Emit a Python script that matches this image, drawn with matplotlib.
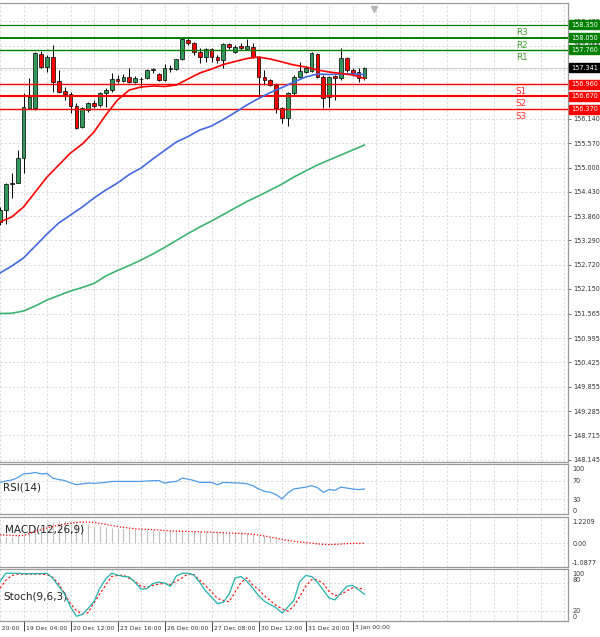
import matplotlib
matplotlib.use('Agg')
import matplotlib.pyplot as plt
from matplotlib.patches import Rectangle
from matplotlib.transforms import blended_transform_factory

# ---------------- data (H4 bars, bar 0 = 19 Dec 04:00) ----------------
bars = list(range(-4, 59))
opens = [153.729, 154.004, 154.614, 154.631,
         155.217, 156.391, 156.391, 157.666, 157.368, 157.602, 157.032, 156.804, 156.734, 156.445,
         155.959, 156.351, 156.509, 156.469, 156.743, 156.821, 157.079, 157.039, 157.133, 157.016,
         157.070, 157.095, 157.290, 157.196, 157.055, 157.314, 157.314, 157.541, 157.994, 157.917,
         157.720, 157.602, 157.776, 157.588, 157.525, 157.894, 157.720, 157.861, 157.776, 157.837,
         157.602, 157.133, 157.055, 156.938, 156.391, 156.156, 156.743, 157.133, 157.250, 157.267,
         157.659, 157.119, 156.649, 157.149, 157.095, 157.565, 157.290, 157.250, 157.095]
highs = [154.074, 154.645, 154.872, 155.412,
         156.743, 157.095, 157.720, 157.743, 157.642, 157.877, 157.290, 156.898, 156.781, 156.516,
         156.429, 156.546, 156.586, 156.781, 156.861, 157.213, 157.173, 157.196, 157.330, 157.149,
         157.133, 157.325, 157.330, 157.227, 157.431, 157.408, 157.560, 158.034, 158.034, 157.955,
         157.800, 157.800, 157.800, 157.642, 157.917, 157.931, 157.877, 157.917, 158.011, 157.931,
         157.610, 157.290, 157.072, 156.978, 156.429, 156.781, 157.173, 157.485, 157.384, 157.720,
         157.696, 157.173, 157.149, 157.173, 157.814, 157.588, 157.330, 157.330, 157.368]
lows = [153.652, 153.675, 154.286, 154.630,
        154.872, 156.390, 156.351, 157.330, 157.250, 156.781, 156.743, 156.586, 156.274, 155.898,
        155.922, 156.311, 156.391, 156.429, 156.415, 156.781, 156.978, 157.016, 156.978, 156.985,
        156.861, 157.079, 157.213, 157.039, 157.039, 157.250, 157.290, 157.525, 157.877, 157.642,
        157.462, 157.485, 157.485, 157.462, 157.330, 157.783, 157.696, 157.760, 157.760, 157.565,
        156.663, 156.938, 156.915, 156.288, 156.053, 155.976, 156.703, 157.095, 157.213, 157.250,
        157.095, 156.391, 156.415, 156.586, 157.055, 157.250, 157.149, 157.016, 157.055]
closes = [154.004, 154.614, 154.631, 155.217,
          156.429, 156.663, 157.682, 157.368, 157.602, 157.016, 156.781, 156.727, 156.445, 155.936,
          156.391, 156.509, 156.452, 156.743, 156.821, 157.079, 157.039, 157.133, 157.016, 157.095,
          157.080, 157.290, 157.314, 157.055, 157.330, 157.344, 157.541, 158.011, 157.931, 157.720,
          157.602, 157.776, 157.588, 157.525, 157.894, 157.823, 157.837, 157.800, 157.854, 157.602,
          157.133, 157.055, 156.938, 156.391, 156.156, 156.743, 157.133, 157.267, 157.330, 157.682,
          157.119, 156.626, 157.133, 157.095, 157.565, 157.290, 157.227, 157.095, 157.341]

ma_bars = list(range(-4, 59, 2))
ma_red = [153.722, 153.840, 154.074, 154.426, 154.778, 155.060, 155.342, 155.553, 155.835, 156.234,
          156.586, 156.821, 156.891, 156.915, 156.903, 156.938, 157.079, 157.220, 157.314, 157.419,
          157.490, 157.560, 157.595, 157.548, 157.478, 157.408, 157.361, 157.290, 157.243, 157.208,
          157.173, 157.091]
ma_blue = [152.525, 152.689, 152.877, 153.159, 153.440, 153.699, 153.886, 154.074, 154.286, 154.473,
           154.638, 154.837, 154.990, 155.201, 155.401, 155.600, 155.729, 155.882, 155.976, 156.128,
           156.293, 156.469, 156.621, 156.762, 156.879, 157.009, 157.126, 157.196, 157.185, 157.196,
           157.196, 157.185]
ma_green = [151.574, 151.579, 151.633, 151.750, 151.891, 151.997, 152.102, 152.185, 152.279, 152.455,
            152.584, 152.701, 152.830, 152.971, 153.124, 153.288, 153.452, 153.605, 153.746, 153.898,
            154.051, 154.203, 154.332, 154.473, 154.614, 154.778, 154.919, 155.060, 155.178, 155.295,
            155.412, 155.530]

level_names = ['R3', 'R2', 'R1', 'S1', 'S2', 'S3']
level_values = [158.350, 158.050, 157.760, 156.960, 156.670, 156.370]
last_price = 157.341

price_ticks = [158.435, 157.855, 157.285, 156.710, 156.140, 155.570, 155.000, 154.430, 153.860,
               153.290, 152.720, 152.150, 151.565, 150.995, 150.425, 149.855, 149.285, 148.715, 148.145]
hidden_ticks = [157.285, 156.710]   # fully covered by the price boxes in the original

rsi = [66, 69, 71, 76,
       84, 85, 87, 84, 85, 75, 72, 70, 65, 61,
       63, 64.5, 64, 65, 66, 68, 68, 68, 68, 68,
       68, 69, 69.5, 70, 64.5, 67, 68, 75, 73, 70,
       66, 66, 66, 61, 66, 65.5, 65, 64.5, 63, 59,
       52, 47, 45, 40, 31, 44, 52, 54, 56, 59,
       55, 45, 50.7, 49.3, 56, 54, 52, 50.7, 52]

macd_hist = [0.30, 0.33, 0.38, 0.45,
             0.55, 0.68, 0.85, 1.00, 1.15, 1.22, 1.25, 1.25, 1.23, 1.20,
             1.15, 1.08, 1.00, 0.95, 0.90, 0.88, 0.86, 0.84, 0.82, 0.80,
             0.78, 0.76, 0.74, 0.72, 0.71, 0.70, 0.70, 0.72, 0.72, 0.70,
             0.68, 0.67, 0.65, 0.63, 0.63, 0.62, 0.60, 0.58, 0.56, 0.52,
             0.48, 0.42, 0.35, 0.25, 0.12, 0.06, 0.02, 0.00, -0.02, 0.00,
             -0.02, -0.06, -0.05, -0.05, 0.00, 0.00, -0.01, -0.02, -0.01]
macd_signal = [0.48, 0.46, 0.44, 0.43,
               0.45, 0.55, 0.66, 0.77, 0.87, 0.95, 1.03, 1.09, 1.14, 1.18,
               1.20, 1.20, 1.18, 1.13, 1.07, 1.01, 0.95, 0.90, 0.86, 0.82,
               0.80, 0.79, 0.77, 0.75, 0.72, 0.70, 0.69, 0.68, 0.67, 0.66,
               0.65, 0.64, 0.63, 0.61, 0.60, 0.58, 0.57, 0.56, 0.54, 0.51,
               0.47, 0.41, 0.35, 0.29, 0.22, 0.16, 0.11, 0.07, 0.04, 0.01,
               -0.03, -0.06, -0.07, -0.06, -0.04, -0.02, -0.01, 0.00, 0.00]

stoch_main = [82, 100, 100, 100,
              99, 99, 99, 99, 100, 89, 72, 55, 28, 8,
              12, 25, 40, 68, 88, 100, 96, 93, 92, 80,
              66, 67, 78, 81, 79, 72, 94, 100, 100, 96,
              80, 62, 49, 35, 38, 56, 90, 93, 83, 68,
              52, 40, 33, 26, 15, 28, 42, 82, 95, 93,
              81, 64, 47, 43, 58, 72, 74, 65, 55]
stoch_signal = [68, 85, 95, 98,
                98, 98, 98, 98, 97, 91, 77, 56, 35, 20,
                13, 16, 37, 56, 75, 93, 95, 96, 89, 82,
                72, 70, 74, 77, 78, 76, 83, 90, 99, 97,
                85, 73, 60, 46, 42, 39, 60, 80, 90, 75,
                65, 52, 41, 31, 24, 19, 30, 50, 72, 86,
                86, 78, 61, 52, 55, 62, 69, 69, 64]

xtick_bars = [-8, 0, 8, 16, 24, 32, 40, 48, 56]
xtick_labels = ['18 Dec 20:00', '19 Dec 04:00', '20 Dec 12:00', '23 Dec 16:00', '26 Dec 00:00',
                '27 Dec 08:00', '30 Dec 12:00', '31 Dec 20:00', '3 Jan 00:00']

# ---------------- figure ----------------
W, H = 600, 637
fig = plt.figure(figsize=(6, 6.37), dpi=100)
fig.patch.set_facecolor('white')
plt.rcParams['font.family'] = ['DejaVu Sans']


def add_ax(top, bottom, right=568):
    return fig.add_axes([0, 1 - bottom / H, right / W, (bottom - top) / H])


ax = add_ax(3, 462)
ax_r = add_ax(464, 514)
ax_m = add_ax(517, 567)
ax_s = add_ax(569, 621)
axes = [ax, ax_r, ax_m, ax_s]

XL = (-3.857, 92.64)
grid_kw = dict(color='#d4d4d4', lw=0.6, ls=(0, (2.5, 2.5)))
major_x = [k for k in xtick_bars if k >= 0]
minor_x = [k for k in range(-4, 93, 4) if k not in major_x]
LAB = '#333333'
for a in axes:
    a.set_xlim(*XL)
    a.set_xticks(major_x)
    a.set_xticks(minor_x, minor=True)
    a.grid(True, which='both', axis='x', **grid_kw)
    a.spines['left'].set_visible(False)
    for s in ['top', 'bottom', 'right']:
        a.spines[s].set_color('#9a9a9a')
        a.spines[s].set_linewidth(0.9)
    a.yaxis.tick_right()
    a.tick_params(axis='y', which='both', labelsize=4.7, colors=LAB, length=0, pad=3)
    a.tick_params(axis='x', which='both', length=0, labelbottom=False)
    a.set_axisbelow(True)

# ---------------- main price panel ----------------
ax.set_ylim(148.088, 158.863)
ax.set_yticks(price_ticks)
ax.set_yticklabels(['' if v in hidden_ticks else '%.3f' % v for v in price_ticks])
ax.tick_params(axis='y', length=2.5, width=0.6, color='#555555', pad=1.5)
ax.grid(True, axis='y', **grid_kw)

ax.axhline(last_price, color='#b8b8b8', lw=0.5, zorder=1.5)

ax.vlines(bars, lows, highs, color='black', lw=0.7, zorder=3)
bottoms = [min(o, c) for o, c in zip(opens, closes)]
heights = [abs(c - o) for o, c in zip(opens, closes)]
cols = ['#2f9a5a' if c >= o else '#ff0000' for o, c in zip(opens, closes)]
ax.bar(bars, heights, bottom=bottoms, width=0.64, color=cols, edgecolor='black',
       linewidth=0.5, zorder=4)

level_colors = ['#008000'] * 3 + ['#ff0000'] * 3
level_lw = [0.9, 1.4, 1.0, 1.0, 1.5, 1.0]
label_colors = ['#3f9c2f'] * 3 + ['#ff2a2a'] * 3
for name, v, c, lw, lc in zip(level_names, level_values, level_colors, level_lw, label_colors):
    ax.axhline(v, color=c, lw=lw, zorder=4.5)
    ax.annotate(name, xy=(0.908, v), xycoords=('axes fraction', 'data'),
                xytext=(0, -7.5), textcoords='offset pixels', ha='left', va='center',
                fontsize=6.3, color=lc, zorder=6)

ax.plot(ma_bars, ma_green, color='#3cb371', lw=1.2, zorder=5)
ax.plot(ma_bars, ma_blue, color='#4169e1', lw=1.2, zorder=5)
ax.plot(ma_bars, ma_red, color='#ff0000', lw=1.2, zorder=5)

# right-side price boxes
btr = blended_transform_factory(fig.transFigure, ax.transData)
box_h = 9 / 42.6
box_vals = level_values[:3] + [last_price] + level_values[3:]
box_cols = ['#008000'] * 3 + ['#000000'] + ['#ff0000'] * 3
for v, c in zip(box_vals, box_cols):
    r = Rectangle((569 / W, v - box_h / 2), 31 / W, box_h, transform=btr,
                  facecolor=c, edgecolor=c, clip_on=False, zorder=10)
    ax.add_patch(r)
    ax.text(584.5 / W, v, '%.3f' % v, transform=btr, ha='center', va='center',
            fontsize=4.7, color='white', clip_on=False, zorder=11)

# small chart-shift marker at top
ax.plot([0.659], [0.988], marker='v', color='#b5b5b5', markersize=4, transform=ax.transAxes,
        clip_on=False, zorder=6)

# ---------------- RSI ----------------
ax_r.set_ylim(-1, 105)
ax_r.set_yticks([0, 30, 70, 100])
ax_r.set_yticklabels(['0', '30', '70', '100'])
for y in (30, 70):
    ax_r.axhline(y, **grid_kw)
ax_r.plot(bars, rsi, color='#4d9be6', lw=0.9, zorder=4)
ax_r.text(0.006, 0.52, 'RSI(14)', transform=ax_r.transAxes, fontsize=7.5, color='#222222',
          ha='left', va='center')
tl = ax_r.get_yticklabels()
tl[0].set_va('bottom')
tl[-1].set_va('top')

# ---------------- MACD ----------------
ax_m.set_ylim(-1.339, 1.486)
ax_m.set_yticks([-1.0877, 0.0, 1.2209])
ax_m.set_yticklabels(['-1.0877', '0.00', '1.2209'])
ax_m.axhline(0, **grid_kw)
ax_m.vlines(bars, 0, macd_hist, color='#c0c0c0', lw=0.8, zorder=3)
ax_m.plot(bars, macd_signal, color='#ff0000', lw=0.9, ls=(0, (1, 1.5)), zorder=4)
ax_m.text(0.008, 0.76, 'MACD(12,26,9)', transform=ax_m.transAxes, fontsize=7.5, color='#222222',
          ha='left', va='center')

# ---------------- Stochastic ----------------
ax_s.set_ylim(-2, 109)
ax_s.set_yticks([0, 20, 80, 100])
ax_s.set_yticklabels(['0', '20', '80', '100'])
for y in (20, 80):
    ax_s.axhline(y, **grid_kw)
ax_s.plot(bars, stoch_signal, color='#ff0000', lw=0.8, ls=(0, (2, 2)), zorder=4)
ax_s.plot(bars, stoch_main, color='#20b2aa', lw=0.9, zorder=5)
ax_s.text(0.006, 0.48, 'Stoch(9,6,3)', transform=ax_s.transAxes, fontsize=7.5, color='#222222',
          ha='left', va='center')
tl = ax_s.get_yticklabels()
tl[0].set_va('bottom')
tl[2].set_va('bottom')

# x tick marks and labels
ax_s.tick_params(axis='x', which='major', length=7, width=0.7, color='#444444', direction='out')
for k, lbl in zip(xtick_bars, xtick_labels):
    ax_s.annotate(lbl, xy=(k, 0), xycoords=('data', 'axes fraction'), xytext=(2, -7),
                  textcoords='offset pixels', ha='left', va='center', fontsize=4.4,
                  color=LAB, annotation_clip=False)

fig.savefig('out.png', dpi=100, facecolor='white')
